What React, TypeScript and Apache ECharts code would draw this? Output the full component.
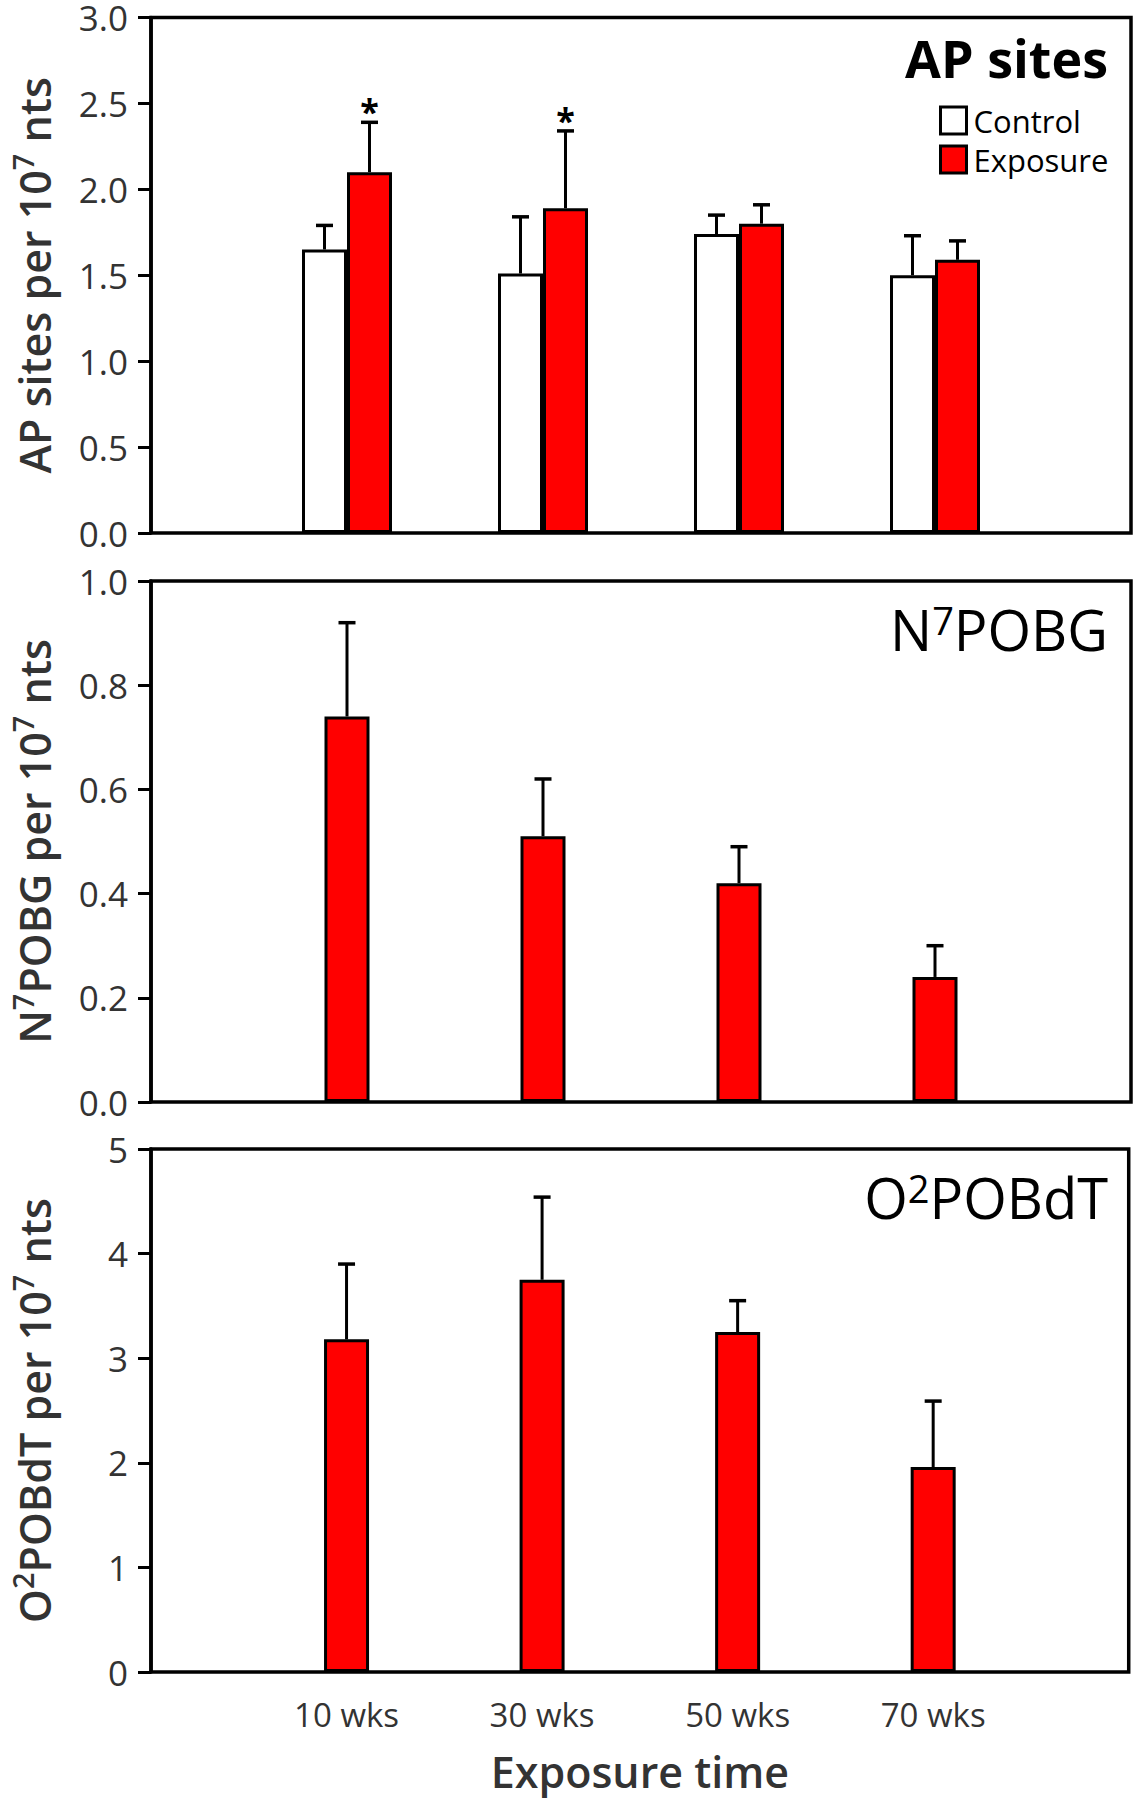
import React, { useEffect, useRef } from "react";
import * as echarts from "echarts";

// ---------- data ----------
const CATEGORIES = ["10 wks", "30 wks", "50 wks", "70 wks"];

const AP_CONTROL = [1.65, 1.51, 1.74, 1.5];
const AP_CONTROL_SE = [0.14, 0.33, 0.11, 0.23];
const AP_EXPOSURE = [2.1, 1.89, 1.8, 1.59];
const AP_EXPOSURE_SE = [0.29, 0.45, 0.11, 0.11];
const AP_SIGNIFICANT = [1, 1, 0, 0];

const N7_EXPOSURE = [0.74, 0.51, 0.42, 0.24];
const N7_EXPOSURE_SE = [0.18, 0.11, 0.07, 0.06];

const O2_EXPOSURE = [3.18, 3.75, 3.25, 1.96];
const O2_EXPOSURE_SE = [0.72, 0.79, 0.3, 0.63];

const AXIS_RANGES = [
  { min: 0, max: 3, interval: 0.5, digits: 1 },
  { min: 0, max: 1, interval: 0.2, digits: 1 },
  { min: 0, max: 5, interval: 1, digits: 0 },
];

// ---------- style ----------
const FONT = '"Open Sans", "Noto Sans", sans-serif';
const RED = "#ff0000";
const BAR_W = 45;
const CAP_W = 17;
const TXT = "#333333";

// axis categories padded with blank slots on each side
const AXIS_CATS = ["", ...CATEGORIES, " "];
const pad = (arr: (number | string)[]) => ["-", ...arr, "-"];

const errData = (means: number[], se: number[], sig?: number[]) =>
  means.map((m, i) => [i + 1, m, m + se[i], sig ? sig[i] : 0]);

const makeErrSeries = (
  name: string,
  gridIdx: number,
  data: number[][],
  offset: number
) => ({
  type: "custom",
  name,
  xAxisIndex: gridIdx,
  yAxisIndex: gridIdx,
  z: 5,
  data,
  renderItem: (params: any, api: any) => {
    const idx = api.value(0);
    const mean = api.value(1);
    const hi = api.value(2);
    const sig = api.value(3);
    const p0 = api.coord([idx, mean]);
    const p1 = api.coord([idx, hi]);
    const x = p0[0] + offset;
    const children: any[] = [
      {
        type: "line",
        shape: { x1: x, y1: p0[1], x2: x, y2: p1[1] },
        style: { stroke: "#000", lineWidth: 3 },
      },
      {
        type: "line",
        shape: { x1: x - CAP_W / 2, y1: p1[1], x2: x + CAP_W / 2, y2: p1[1] },
        style: { stroke: "#000", lineWidth: 3.5 },
      },
    ];
    if (sig) {
      children.push({
        type: "text",
        x,
        y: p1[1] - 11,
        style: {
          text: "*",
          fontSize: 34,
          fontWeight: "bold",
          fontFamily: FONT,
          fill: "#000",
          align: "center",
          verticalAlign: "middle",
        },
      });
    }
    return { type: "group", children };
  },
});

const supStyle = (size: number, lh: number, weight: any, color: string) => ({
  fontSize: size,
  lineHeight: lh,
  fontWeight: weight,
  fontFamily: FONT,
  color,
  verticalAlign: "top",
});

const Y_NAMES = [
  "AP sites per 10{sup|7} nts",
  "N{sup|7}POBG per 10{sup|7} nts",
  "O{sup|2}POBdT per 10{sup|7} nts",
];

const GRIDS = [
  { top: 14, height: 519 },
  { top: 581, height: 521 },
  { top: 1149, height: 523 },
];

export default function App() {
  const ref = useRef<HTMLDivElement>(null);

  useEffect(() => {
    document.body.style.margin = "0";
    if (!ref.current) return;
    const chart = echarts.init(ref.current, undefined, { renderer: "svg" });

    const grid = GRIDS.map((g) => ({
      left: 146,
      right: 5,
      top: g.top,
      height: g.height,
      show: true,
      borderColor: "#000",
      borderWidth: 3.5,
      backgroundColor: "transparent",
      containLabel: false,
    }));

    const xAxis = GRIDS.map((_, i) => ({
      type: "category",
      gridIndex: i,
      data: AXIS_CATS,
      boundaryGap: false,
      axisLine: { show: false },
      axisTick: { show: false },
      splitLine: { show: false },
      axisLabel: {
        show: i === 2,
        fontSize: 33,
        lineHeight: 33,
        fontFamily: FONT,
        color: TXT,
        margin: 26,
        interval: 0,
      },
      name: i === 2 ? "Exposure time" : "",
      nameLocation: "middle",
      nameGap: 78,
      nameTextStyle: {
        fontSize: 43,
        lineHeight: 43,
        fontWeight: 600,
        fontFamily: FONT,
        color: TXT,
      },
    }));

    const yAxis = AXIS_RANGES.map((r, i) => ({
      type: "value",
      gridIndex: i,
      min: r.min,
      max: r.max,
      interval: r.interval,
      axisLine: { show: true, lineStyle: { color: "#000", width: 3.5 } },
      axisTick: {
        show: true,
        length: 13,
        lineStyle: { color: "#000", width: 3 },
      },
      splitLine: { show: false },
      axisLabel: {
        fontSize: 35,
        lineHeight: 28,
        fontFamily: FONT,
        color: TXT,
        margin: 23,
        formatter: (v: number) => v.toFixed(r.digits),
      },
      name: Y_NAMES[i],
      nameLocation: "middle",
      nameRotate: 90,
      nameGap: 91,
      nameTextStyle: {
        fontSize: 43,
        lineHeight: 52,
        fontWeight: 600,
        fontFamily: FONT,
        color: TXT,
        rich: { sup: supStyle(29, 22, 600, TXT) },
      },
    }));

    const barStyle = (color: string) => ({
      color,
      borderColor: "#000",
      borderWidth: 3,
    });

    const series: any[] = [
      {
        type: "bar",
        name: "Control",
        xAxisIndex: 0,
        yAxisIndex: 0,
        data: pad(AP_CONTROL),
        barWidth: BAR_W,
        barGap: "0%",
        itemStyle: barStyle("#ffffff"),
      },
      {
        type: "bar",
        name: "Exposure",
        xAxisIndex: 0,
        yAxisIndex: 0,
        data: pad(AP_EXPOSURE),
        barWidth: BAR_W,
        barGap: "0%",
        itemStyle: barStyle(RED),
      },
      {
        type: "bar",
        name: "Exposure",
        xAxisIndex: 1,
        yAxisIndex: 1,
        data: pad(N7_EXPOSURE),
        barWidth: BAR_W,
        itemStyle: barStyle(RED),
      },
      {
        type: "bar",
        name: "Exposure",
        xAxisIndex: 2,
        yAxisIndex: 2,
        data: pad(O2_EXPOSURE),
        barWidth: BAR_W,
        itemStyle: barStyle(RED),
      },
      makeErrSeries("err-ap-control", 0, errData(AP_CONTROL, AP_CONTROL_SE), -BAR_W / 2),
      makeErrSeries(
        "err-ap-exposure",
        0,
        errData(AP_EXPOSURE, AP_EXPOSURE_SE, AP_SIGNIFICANT),
        BAR_W / 2
      ),
      makeErrSeries("err-n7", 1, errData(N7_EXPOSURE, N7_EXPOSURE_SE), 0),
      makeErrSeries("err-o2", 2, errData(O2_EXPOSURE, O2_EXPOSURE_SE), 0),
    ];

    const titleBase = (size: number, weight: any) => ({
      fontSize: size,
      lineHeight: size,
      fontWeight: weight,
      fontFamily: FONT,
      color: "#000",
    });

    chart.setOption({
      animation: false,
      backgroundColor: "#ffffff",
      title: [
        {
          text: "AP sites",
          right: 28,
          top: 31,
          padding: 0,
          textStyle: titleBase(52, "bold"),
        },
        {
          text: "N{sup|7}POBG",
          right: 28,
          top: 601,
          padding: 0,
          textStyle: {
            ...titleBase(56, "normal"),
            rich: { sup: supStyle(38, 22, "normal", "#000") },
          },
        },
        {
          text: "O{sup|2}POBdT",
          right: 28,
          top: 1169,
          padding: 0,
          textStyle: {
            ...titleBase(56, "normal"),
            rich: { sup: supStyle(38, 22, "normal", "#000") },
          },
        },
      ],
      legend: {
        data: ["Control", "Exposure"],
        orient: "vertical",
        left: 939,
        top: 105,
        padding: 0,
        itemWidth: 26,
        itemHeight: 27,
        itemGap: 8,
        icon: "rect",
        selectedMode: false,
        itemStyle: { borderColor: "#000", borderWidth: 3 },
        textStyle: { fontSize: 31, fontFamily: FONT, color: "#000", padding: [0, 0, 0, 2] },
      },
      grid,
      xAxis,
      yAxis,
      series,
    });

    return () => chart.dispose();
  }, []);

  return <div ref={ref} style={{ width: 1136, height: 1800 }} />;
}
